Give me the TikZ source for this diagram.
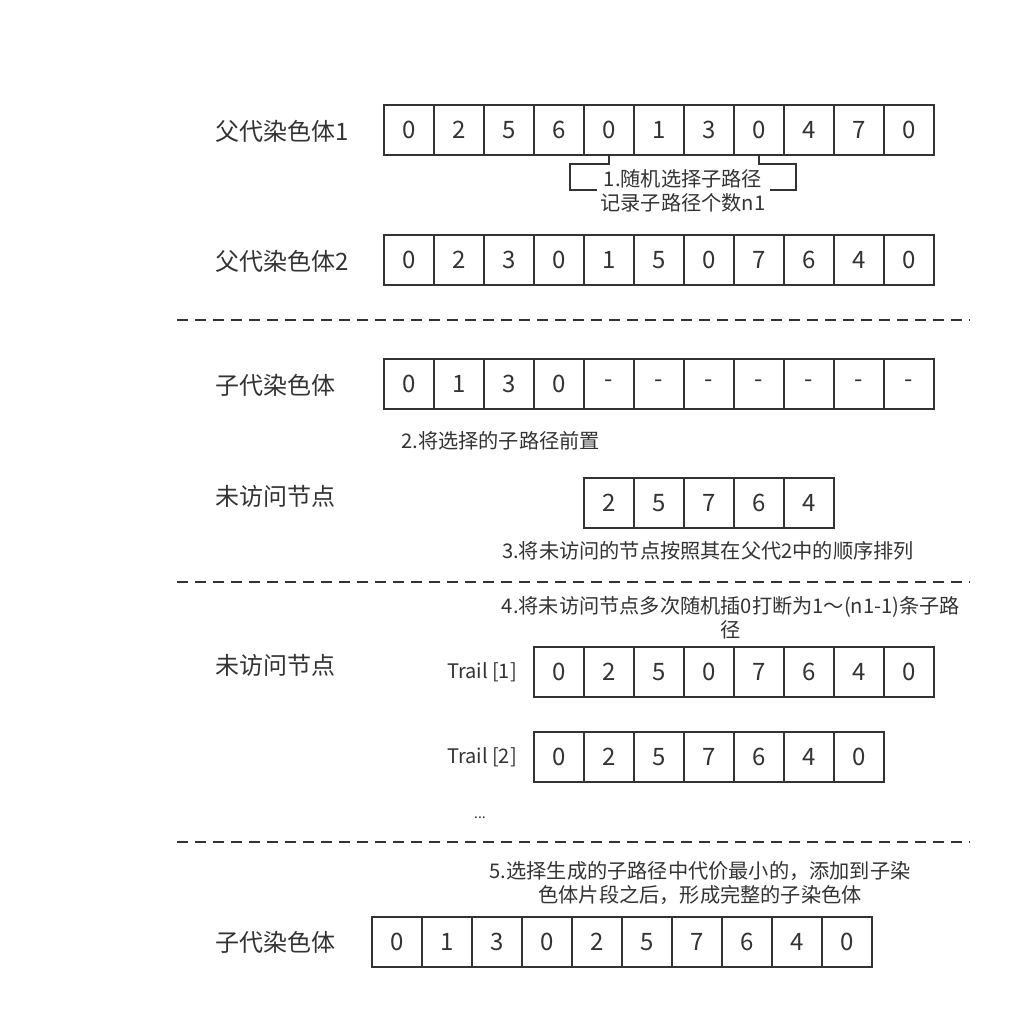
\documentclass[tikz,border=0pt]{standalone}
\usepackage{fontspec}
\setmainfont{Noto Sans CJK SC}
\begin{document}
\begin{tikzpicture}[x=1pt,y=-1pt,
  ink/.style={draw=black!80, line width=1.6pt},
  cell/.style={ink, minimum width=50pt, minimum height=50pt, inner sep=0pt, text=black!80, font=\fontsize{24}{26}\selectfont},
  lbl/.style={anchor=west, inner sep=0pt, text=black!80, font=\fontsize{24}{26}\selectfont},
  note/.style={inner sep=0pt, text=black!80, font=\fontsize{20.2}{24}\selectfont, align=center},
  trail/.style={anchor=east, inner sep=0pt, text=black!80, font=\fontsize{20}{22}\selectfont},
  sep/.style={draw=black!80, line width=1.6pt, dash pattern=on 11pt off 7pt}]
\fill[white] (0,0) rectangle (1034,1029);
\useasboundingbox (0,0) rectangle (1034,1029);

% labels
\node[lbl] (l1) at (215,131) {父代染色体1};
\node[lbl] (l2) at (215,261) {父代染色体2};
\node[lbl] (l3) at (215,385) {子代染色体};
\node[lbl] (l4) at (215,496) {未访问节点};
\node[lbl] (l5) at (215,665) {未访问节点};
\node[lbl] (l6) at (215,942) {子代染色体};

% rows
\foreach \v [count=\i] in {0,2,5,6,0,1,3,0,4,7,0}
  \node[cell] (a\i) at ({359+50*\i},130) {\v};
\foreach \v [count=\i] in {0,2,3,0,1,5,0,7,6,4,0}
  \node[cell] (b\i) at ({359+50*\i},260) {\v};
\foreach \v [count=\i] in {0,1,3,0,-,-,-,-,-,-,-}
  \node[cell] (c\i) at ({359+50*\i},384) {\v};
\foreach \v [count=\i] in {2,5,7,6,4}
  \node[cell] (u\i) at ({559+50*\i},503) {\v};
\foreach \v [count=\i] in {0,2,5,0,7,6,4,0}
  \node[cell] (t\i) at ({509+50*\i},672) {\v};
\foreach \v [count=\i] in {0,2,5,7,6,4,0}
  \node[cell] (s\i) at ({509+50*\i},757) {\v};
\foreach \v [count=\i] in {0,1,3,0,2,5,7,6,4,0}
  \node[cell] (f\i) at ({347+50*\i},942) {\v};

% bracket
\coordinate (bl) at (597,190);
\coordinate (br) at (770,190);
\draw[ink] (a5.south) -- ++(0,8) -- ++(-39,0) |- (bl);
\draw[ink] (a8.south) -- ++(0,8) -- ++(37,0) |- (br);
\node[note] (n1) at (683,191) {1.随机选择子路径\\记录子路径个数n1};

% notes
\node[note, anchor=west] (n2) at (401,441) {2.将选择的子路径前置};
\node[note] (n3) at (708,551) {3.将未访问的节点按照其在父代2中的顺序排列};
\node[note] (n4) at (731,618) {4.将未访问节点多次随机插0打断为1～(n1-1)条子路\\径};
\node[note] (n5) at (700,883) {5.选择生成的子路径中代价最小的，添加到子染\\色体片段之后，形成完整的子染色体};

\node[trail] (tr1) at (517,672) {Trail [1]};
\node[trail] (tr2) at (517,757) {Trail [2]};
\node[inner sep=0pt, text=black!80, font=\fontsize{14}{16}\selectfont] (dots) at (480,818) {...};

% separators
\draw[sep] (177,320) -- (970,320);
\draw[sep] (177,582) -- (970,582);
\draw[sep] (177,842) -- (970,842);
\end{tikzpicture}
\end{document}
